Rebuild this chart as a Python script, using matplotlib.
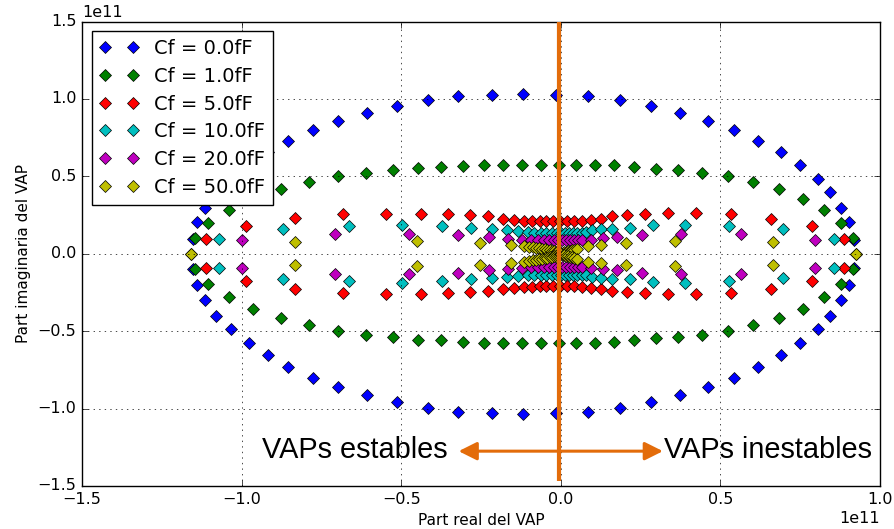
import matplotlib
matplotlib.use('Agg')
import matplotlib.pyplot as plt
from matplotlib.patches import FancyArrowPatch
import numpy as np

plt.style.use('classic')
plt.rcParams.update({
    'font.family': 'DejaVu Sans',
    'font.size': 11.5,
    'figure.facecolor': 'white',
    'savefig.facecolor': 'white',
})

SCALE = 1e11
ORANGE = '#E36C0A'

# ── eigenvalues (upper half, units of 1e11); lower half is the conjugate ─────
labels = ['Cf = 0.0fF', 'Cf = 1.0fF', 'Cf = 5.0fF',
          'Cf = 10.0fF', 'Cf = 20.0fF', 'Cf = 50.0fF']
colors = ['b', 'g', 'r', 'c', 'm', 'y']

x_cf0 = [-1.152, -1.140, -1.115, -1.080, -1.033, -0.978, -0.918, -0.853,
         -0.777, -0.699, -0.606, -0.514, -0.416, -0.321, -0.214, -0.118,
         -0.015, 0.086, 0.186, 0.283, 0.374, 0.462, 0.544, 0.619, 0.690,
         0.750, 0.805, 0.845, 0.878, 0.903, 0.920]
y_cf0 = [0.097, 0.205, 0.297, 0.399, 0.485, 0.575, 0.657, 0.730, 0.800,
         0.860, 0.910, 0.957, 0.994, 1.019, 1.028, 1.032, 1.028, 1.019,
         0.994, 0.957, 0.910, 0.860, 0.800, 0.730, 0.657, 0.575, 0.485,
         0.399, 0.297, 0.205, 0.092]

x_cf1 = [-1.145, -1.105, -1.040, -0.965, -0.878, -0.788, -0.697, -0.609,
         -0.526, -0.446, -0.376, -0.305, -0.241, -0.181, -0.120, -0.063,
         -0.007, 0.049, 0.108, 0.167, 0.230, 0.298, 0.368, 0.442, 0.523,
         0.601, 0.683, 0.758, 0.824, 0.878, 0.915]
y_cf1 = [0.101, 0.198, 0.280, 0.356, 0.416, 0.461, 0.500, 0.524, 0.539,
         0.554, 0.560, 0.569, 0.575, 0.575, 0.575, 0.575, 0.575, 0.575,
         0.575, 0.571, 0.558, 0.545, 0.539, 0.524, 0.500, 0.461, 0.416,
         0.356, 0.280, 0.198, 0.101]

x_cf5 = [-1.110, -0.985, -0.832, -0.681, -0.546, -0.439, -0.352, -0.284,
         -0.228, -0.182, -0.146, -0.115, -0.089, -0.066, -0.045, -0.024,
         -0.002, 0.018, 0.040, 0.068, 0.094, 0.125, 0.162, 0.207, 0.264,
         0.337, 0.424, 0.533, 0.659, 0.787, 0.887]
y_cf5 = [0.095, 0.179, 0.228, 0.254, 0.259, 0.259, 0.254, 0.248, 0.241,
         0.226, 0.220, 0.213, 0.212, 0.211, 0.211, 0.211, 0.211, 0.211,
         0.211, 0.213, 0.220, 0.226, 0.241, 0.248, 0.254, 0.261, 0.261,
         0.254, 0.226, 0.179, 0.095]

x_cf10 = [-1.072, -0.871, -0.664, -0.496, -0.371, -0.280, -0.216, -0.169,
          -0.133, -0.104, -0.084, -0.063, -0.045, -0.027, -0.013, 0.000,
          0.013, 0.026, 0.039, 0.052, 0.065, 0.078, 0.097, 0.125, 0.162,
          0.217, 0.290, 0.389, 0.526, 0.695, 0.855]
y_cf10 = [0.095, 0.160, 0.177, 0.187, 0.179, 0.166, 0.157, 0.151, 0.144,
          0.140, 0.136, 0.135, 0.134, 0.134, 0.134, 0.134, 0.134, 0.134,
          0.134, 0.135, 0.137, 0.140, 0.151, 0.157, 0.160, 0.166, 0.183,
          0.187, 0.179, 0.157, 0.095]

x_cf20 = [-0.998, -0.708, -0.475, -0.322, -0.225, -0.165, -0.123, -0.094,
          -0.071, -0.052, -0.037, -0.021, -0.008, 0.004, 0.016, 0.029,
          0.042, 0.055, 0.068, 0.096, 0.131, 0.176, 0.253, 0.376, 0.565,
          0.798]
y_cf20 = [0.090, 0.129, 0.129, 0.123, 0.108, 0.097, 0.090, 0.088, 0.087,
          0.086, 0.086, 0.086, 0.086, 0.086, 0.086, 0.086, 0.087, 0.088,
          0.088, 0.092, 0.101, 0.108, 0.123, 0.129, 0.129, 0.090]

x_cf50 = [-1.157, -0.832, -0.450, -0.254, -0.157, -0.115, -0.100, -0.088,
          -0.077, -0.067, -0.058, -0.050, -0.042, -0.035, -0.028, -0.022,
          -0.016, -0.011, -0.006, -0.002, 0.002, 0.006, 0.011, 0.016,
          0.022, 0.028, 0.035, 0.042, 0.050, 0.084, 0.125, 0.204, 0.358,
          0.664, 0.925]
y_cf50 = [0.000, 0.073, 0.082, 0.071, 0.058, 0.050, 0.046, 0.042, 0.038,
          0.035, 0.031, 0.028, 0.025, 0.022, 0.019, 0.016, 0.013, 0.010,
          0.007, 0.004, 0.004, 0.007, 0.010, 0.013, 0.016, 0.019, 0.022,
          0.026, 0.031, 0.050, 0.058, 0.071, 0.082, 0.073, 0.000]

series_x = [x_cf0, x_cf1, x_cf5, x_cf10, x_cf20, x_cf50]
series_y = [y_cf0, y_cf1, y_cf5, y_cf10, y_cf20, y_cf50]

fig = plt.figure(figsize=(8.94, 5.29), dpi=100)
ax = fig.add_axes([0.0917, 0.0813, 0.8926, 0.878])

for xs, ys, c, lab in zip(series_x, series_y, colors, labels):
    xs = np.asarray(xs) * SCALE
    ys = np.asarray(ys) * SCALE
    ax.plot(np.concatenate([xs, xs]), np.concatenate([ys, -ys]), 'D',
            color=c, mec='k', mew=0.5, ms=6, label=lab)

ax.set_xlim(-1.5 * SCALE, 1.0 * SCALE)
ax.set_ylim(-1.5 * SCALE, 1.5 * SCALE)
ax.grid(True)
ax.set_xlabel('Part real del VAP', fontsize=11)
ax.set_ylabel('Part imaginaria del VAP', fontsize=11)
ax.legend(loc='upper left', numpoints=2, fontsize=14, labelspacing=0.45)

# stability annotations
ax.plot([-0.004 * SCALE, -0.004 * SCALE], [1.5 * SCALE, -1.47 * SCALE],
        color=ORANGE, lw=3, solid_capstyle='butt', clip_on=False, zorder=5)
ax.add_patch(FancyArrowPatch((-0.32 * SCALE, -1.275 * SCALE),
                             (0.32 * SCALE, -1.275 * SCALE),
                             arrowstyle='<|-|>,head_length=11,head_width=5.5',
                             mutation_scale=1, color=ORANGE, lw=2.2,
                             shrinkA=0, shrinkB=0, zorder=5))
ax.text(-0.354 * SCALE, -1.27 * SCALE, 'VAPs estables', ha='right',
        va='center', fontsize=20.8, family='Liberation Sans')
ax.text(0.322 * SCALE, -1.27 * SCALE, 'VAPs inestables', ha='left',
        va='center', fontsize=20.8, family='Liberation Sans')

fig.savefig('out.png', dpi=100)
